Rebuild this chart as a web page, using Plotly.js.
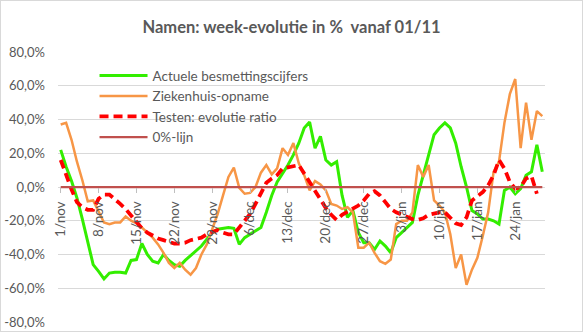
<!DOCTYPE html>
<html>
<head>
<meta charset="utf-8">
<script src="https://cdn.plot.ly/plotly-3.0.1.min.js"></script>
<style>
  html, body { margin: 0; padding: 0; background: #fff; }
  #wrap { position: relative; width: 583px; height: 332px; }
  #chart { width: 583px; height: 332px; }
  #frame { position: absolute; left: 0; top: 0; width: 583px; height: 332px; box-sizing: border-box; border: 1px solid #d9d9d9; pointer-events: none; }
</style>
</head>
<body>
<div id="wrap"><div id="chart"></div><div id="frame"></div></div>
<script>
// Daily values from 1 Nov 2020 to 29 Jan 2021 (90 days), in %
const startDate = '2020-11-01';
const besmettingen = [
  22, 12, 3.5, -6.5, -19, -33, -46, -50, -54.5, -51,
  -50.5, -50.5, -51, -43.5, -43, -33.5, -40, -44, -45, -40,
  -43.5, -46, -47, -43.5, -40.5, -38, -35, -31, -27, -25,
  -24.5, -24, -24.5, -34, -30, -28, -26, -24, -15, -5,
  3, 8, 13, 19, 26, 35, 38.5, 23, 30, 16,
  13, 15, -5, -18, -14, -27, -33, -33, -37, -32,
  -35, -39, -30, -27, -24, -21, -5, 7, 18, 31,
  35, 38, 35, 26, 12, 0, -14, -16, -19, -19,
  -20, -22, -2, 0, -4, -1, 7, 9, 25, 9
];
const ziekenhuis = [
  37, 38, 28, 15, 4, -8.5, -8, -15, -21, -22,
  -21, -21, -17.5, -20, -21.5, -24, -27, -30, -34, -39,
  -45, -48, -45, -49, -52, -48, -40, -34, -25, -16,
  -5, 6, 11.5, -0.5, -4, -3.5, 0, 8.5, 13, 7.5,
  11, 23, 19, 26, 14, 7, -2, 3.5, 1.5, -2,
  -10, -11, -13, -12, -15, -36, -36, -33, -39, -44,
  -45.5, -43, -22, -20, -20, -15, 13, 6, 13, -8,
  -11, -15, -28, -48, -40, -58, -49, -42, -29, -15,
  9, 15, 38, 55, 64, 23, 50, 28, 45, 42
];
const testen = [
  16, 7, -1.5, -9, -12, -13.5, -13.5, -7, -4.5, -4.5,
  -7, -10, -13, -17, -21, -24.5, -27, -29, -30.5, -31.5,
  -32.5, -33.5, -33.5, -33, -31.5, -30.5, -30, -28, -26.5, -25.5,
  -27, -28, -28, -24, -20.5, -16, -10, -3.5, 2.5, 5,
  7, 11, 11.5, 12.5, 13, 8, 3, -2.5, -8, -12.5,
  -16.5, -19.5, -16.5, -14.5, -13, -11, -8, -4, -2.5, -5,
  -9, -13, -15, -16.5, -17.5, -19, -19.5, -18.5, -16.5, -15.5,
  -15, -15, -18, -21.5, -22.5, -18, -8, -5.5, -3, 1,
  7, 16, 11, 3, -1, 0, 5, 6.5, -4, null
];
const nulLijn = [
  0, 0, 0, 0, 0, 0, 0, 0, 0, 0, 0, 0, 0, 0, 0, 0, 0, 0, 0, 0,
  0, 0, 0, 0, 0, 0, 0, 0, 0, 0, 0, 0, 0, 0, 0, 0, 0, 0, 0, 0,
  0, 0, 0, 0, 0, 0, 0, 0, 0, 0, 0, 0, 0, 0, 0, 0, 0, 0, 0, 0,
  0, 0, 0, 0, 0, 0, 0, 0, 0, 0, 0, 0, 0, 0, 0, 0, 0, 0, 0, 0,
  0, 0, 0, 0, 0, 0, 0, 0, 0, 0
];
const seriesNames = ['Actuele besmettingscijfers', 'Ziekenhuis-opname', 'Testen: evolutie ratio', '0%-lijn'];
const xTickDates = ['2020-11-01','2020-11-08','2020-11-15','2020-11-22','2020-11-29','2020-12-06','2020-12-13','2020-12-20','2020-12-27','2021-01-03','2021-01-10','2021-01-17','2021-01-24'];
const xTickLabels = ['1/nov','8/nov','15/nov','22/nov','29/nov','6/dec','13/dec','20/dec','27/dec','3/jan','10/jan','17/jan','24/jan'];
const yTickVals = [-80, -60, -40, -20, 0, 20, 40, 60, 80];
const yTickLabels = ['-80,0%','-60,0%','-40,0%','-20,0%','0,0%','20,0%','40,0%','60,0%','80,0%'];

// dates for each day
const dates = [];
{
  const d0 = new Date(startDate + 'T00:00:00Z');
  for (let i = 0; i < besmettingen.length; i++) {
    const d = new Date(d0.getTime() + i * 86400000);
    dates.push(d.toISOString().slice(0, 10));
  }
}

const FONT = 'Lato, "Open Sans", sans-serif';
const GREY = '#595959';

const traces = [
  { x: dates, y: besmettingen, name: seriesNames[0], type: 'scatter', mode: 'lines',
    line: { color: '#33ee00', width: 3 } },
  { x: dates, y: ziekenhuis, name: seriesNames[1], type: 'scatter', mode: 'lines',
    line: { color: '#f79646', width: 2.5 } },
  { x: dates, y: testen, name: seriesNames[2], type: 'scatter', mode: 'lines',
    line: { color: '#ff0000', width: 3.75, dash: '9px,5px' } },
  { x: dates, y: nulLijn, name: seriesNames[3], type: 'scatter', mode: 'lines',
    line: { color: '#c0504d', width: 2.25 } }
];

const layout = {
  width: 583, height: 332,
  margin: { l: 58, r: 38, t: 52, b: 10, pad: 0 },
  paper_bgcolor: '#ffffff', plot_bgcolor: '#ffffff',
  font: { family: FONT, color: GREY, size: 13.5 },
  title: { text: '<b>Namen: week-evolutie in %  vanaf 01/11</b>', font: { family: FONT, size: 16.5, color: GREY },
           x: 0.5, xref: 'container', xanchor: 'center', y: 0.918, yref: 'container', yanchor: 'middle' },
  showlegend: true,
  legend: { x: 0.075, xanchor: 'left', y: 0.97, yanchor: 'top', bgcolor: 'rgba(0,0,0,0)',
            font: { family: FONT, size: 13.5, color: GREY }, itemwidth: 48, tracegroupgap: 0 },
  xaxis: {
    type: 'date', range: ['2020-10-31 12:00', '2021-01-29 12:00'],
    tickmode: 'array', tickvals: xTickDates, ticktext: xTickLabels, tickangle: -90,
    ticks: 'outside', ticklen: 5, tickcolor: '#bfbfbf', tickwidth: 1, ticklabelstandoff: 3,
    showgrid: false, zeroline: false, showline: false,
    anchor: 'free', position: 0.5,
    tickfont: { family: FONT, size: 13.5, color: GREY }, automargin: false
  },
  yaxis: {
    range: [-80, 80], tickmode: 'array', tickvals: yTickVals, ticktext: yTickLabels,
    showgrid: true, gridcolor: '#d9d9d9', gridwidth: 1, zeroline: false, showline: false,
    ticks: '', ticklabelstandoff: 12,
    tickfont: { family: FONT, size: 13, color: GREY }, automargin: false
  }
};

Plotly.newPlot('chart', traces, layout, { displayModeBar: false, staticPlot: true });
</script>
</body>
</html>
